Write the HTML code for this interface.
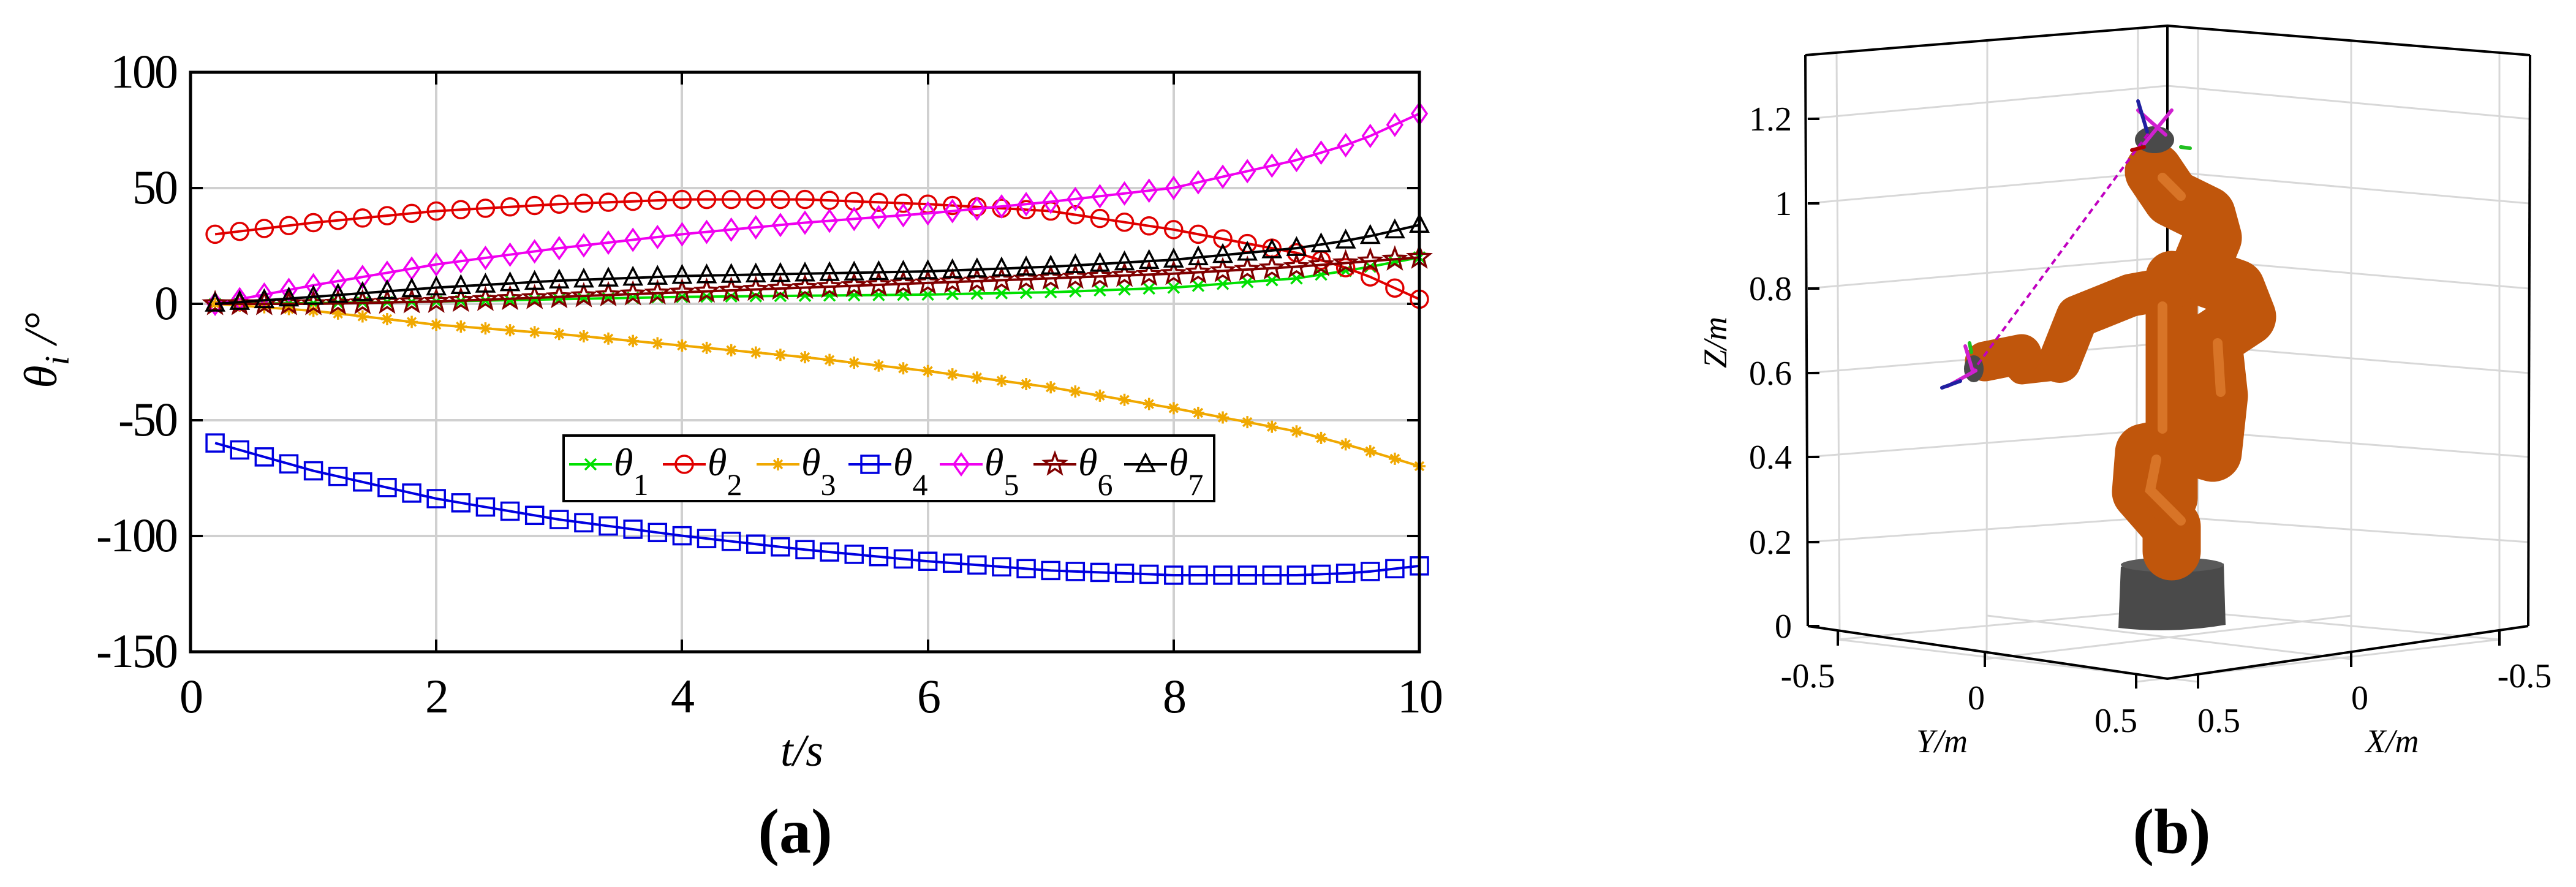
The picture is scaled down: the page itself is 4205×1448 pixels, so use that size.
<!DOCTYPE html>
<html><head><meta charset="utf-8"><style>
html,body{margin:0;padding:0;background:#fff;}
svg{display:block;}
svg text{font-family:"Liberation Serif","Times New Roman","DejaVu Serif",serif;fill:#000;}
</style></head><body>
<svg id="s" width="4205" height="1448" viewBox="0 0 4205 1448" xmlns="http://www.w3.org/2000/svg">
<rect width="4205" height="1448" fill="#fff"/>
<g stroke="#d0d0d0" stroke-width="4">
<line x1="712" y1="118" x2="712" y2="1064"/><line x1="1113" y1="118" x2="1113" y2="1064"/>
<line x1="1515" y1="118" x2="1515" y2="1064"/><line x1="1916" y1="118" x2="1916" y2="1064"/>
<line x1="311" y1="307" x2="2317" y2="307"/><line x1="311" y1="496" x2="2317" y2="496"/>
<line x1="311" y1="686" x2="2317" y2="686"/><line x1="311" y1="875" x2="2317" y2="875"/>
</g>
<g stroke="#000" stroke-width="4">
<line x1="712" y1="1064" x2="712" y2="1044"/><line x1="1113" y1="1064" x2="1113" y2="1044"/><line x1="1515" y1="1064" x2="1515" y2="1044"/><line x1="1916" y1="1064" x2="1916" y2="1044"/>
<line x1="712" y1="118" x2="712" y2="138"/><line x1="1113" y1="118" x2="1113" y2="138"/><line x1="1515" y1="118" x2="1515" y2="138"/><line x1="1916" y1="118" x2="1916" y2="138"/>
<line x1="311" y1="307" x2="331" y2="307"/><line x1="311" y1="496" x2="331" y2="496"/><line x1="311" y1="686" x2="331" y2="686"/><line x1="311" y1="875" x2="331" y2="875"/>
<line x1="2317" y1="307" x2="2297" y2="307"/><line x1="2317" y1="496" x2="2297" y2="496"/><line x1="2317" y1="686" x2="2297" y2="686"/><line x1="2317" y1="875" x2="2297" y2="875"/>
</g>
<g id="series"></g>
<rect x="311" y="118" width="2006" height="946" fill="none" stroke="#000" stroke-width="5"/>
<g font-size="78" text-anchor="end" letter-spacing="-3">
<text x="288" y="143">100</text><text x="288" y="332">50</text><text x="288" y="521">0</text>
<text x="288" y="711">-50</text><text x="288" y="900">-100</text><text x="288" y="1089">-150</text>
</g>
<g font-size="78" text-anchor="middle" letter-spacing="-3">
<text x="311" y="1163">0</text><text x="712" y="1163">2</text><text x="1113" y="1163">4</text>
<text x="1515" y="1163">6</text><text x="1916" y="1163">8</text><text x="2317" y="1163">10</text>
</g>
<text x="1309" y="1250" font-size="74" font-style="italic" text-anchor="middle">t/s</text>
<text transform="translate(92,572) rotate(-90)" font-size="76" font-style="italic" text-anchor="middle">θ<tspan font-size="56" dy="20">i</tspan><tspan dy="-20"> /°</tspan></text>
<text x="1298" y="1392" font-size="104" font-weight="bold" text-anchor="middle">(a)</text>
<rect x="920" y="711" width="1062" height="107" fill="#fff" stroke="#000" stroke-width="4"/>
<g id="legend" font-size="64" font-style="italic"></g>

<g stroke="#d8d8d8" stroke-width="3" fill="none">
<line x1="2998" y1="85" x2="3003" y2="1044"/><line x1="3244" y1="65" x2="3243" y2="1076"/>
<line x1="3490" y1="46" x2="3487" y2="1010"/>
<line x1="3588" y1="46" x2="3588" y2="1010"/><line x1="3838" y1="65" x2="3838" y2="1076"/><line x1="4080" y1="85" x2="4080" y2="1044"/>
<polyline points="2950,885 3538,843 4128,885"/><polyline points="2950,746 3538,700 4128,746"/>
<polyline points="2950,609 3538,560 4128,609"/><polyline points="2950,471 3538,420 4128,471"/>
<polyline points="2950,332 3538,280 4128,332"/><polyline points="2950,194 3538,140 4128,194"/>
<line x1="3000" y1="1044" x2="3588" y2="990"/><line x1="3240" y1="1076" x2="3838" y2="1005"/>
<line x1="3487" y1="1113" x2="4080" y2="1044"/><line x1="4080" y1="1044" x2="3490" y2="990"/>
<line x1="3838" y1="1076" x2="3244" y2="1005"/><line x1="3588" y1="1113" x2="3000" y2="1044"/>
</g>
<g stroke="#000" stroke-width="4" fill="none">
<polyline points="2947,90 3538,42 4130,90"/>
<line x1="3538" y1="42" x2="3538" y2="1000"/>
<line x1="2947" y1="90" x2="2951" y2="1022"/><line x1="4130" y1="90" x2="4127" y2="1022"/>
<polyline points="2951,1022 3538,1108 4127,1022"/>
<line x1="2951" y1="1022" x2="2970" y2="1022"/><line x1="2951" y1="885" x2="2970" y2="885"/><line x1="2951" y1="746" x2="2970" y2="746"/>
<line x1="2951" y1="609" x2="2970" y2="609"/><line x1="2951" y1="471" x2="2970" y2="471"/><line x1="2951" y1="332" x2="2970" y2="332"/><line x1="2951" y1="194" x2="2970" y2="194"/>
<line x1="3000" y1="1030" x2="3000" y2="1054"/><line x1="3240" y1="1065" x2="3240" y2="1089"/><line x1="3487" y1="1100" x2="3487" y2="1124"/>
<line x1="3588" y1="1100" x2="3588" y2="1124"/><line x1="3838" y1="1065" x2="3838" y2="1089"/><line x1="4080" y1="1030" x2="4080" y2="1054"/>
</g>
<g font-size="56" text-anchor="end">
<text x="2925" y="1041">0</text><text x="2925" y="904">0.2</text><text x="2925" y="765">0.4</text><text x="2925" y="628">0.6</text>
<text x="2925" y="490">0.8</text><text x="2925" y="351">1</text><text x="2925" y="213">1.2</text>
</g>
<g font-size="56" text-anchor="middle">
<text x="2951" y="1122">-0.5</text><text x="3226" y="1158">0</text><text x="3454" y="1195">0.5</text>
<text x="3622" y="1195">0.5</text><text x="3852" y="1158">0</text><text x="4121" y="1122">-0.5</text>
</g>
<g font-size="54" font-style="italic" text-anchor="middle">
<text x="3170" y="1228">Y/m</text><text x="3905" y="1228">X/m</text>
<text transform="translate(2818,559) rotate(-90)">Z/m</text>
</g>
<text x="3545" y="1392" font-size="104" font-weight="bold" text-anchor="middle">(b)</text>
<path d="M3462,925 L3630,920 L3633,1020 Q3545,1035 3458,1025 Z" fill="#4a4a4a"/>
<ellipse cx="3546" cy="922" rx="84" ry="12" fill="#5a5a5a"/>
<g fill="none" stroke="#c0560c" stroke-linecap="round" stroke-linejoin="round">
<polyline stroke-width="95" points="3545,900 3545,860 3495,803 3500,739 3564,725 3612,739 3622,646 3612,554 3668,517 3650,471 3605,455 3593,434 3612,388 3602,351 3545,323 3516,280"/>
<polyline stroke-width="85" points="3545,452 3545,813"/>
<polyline stroke-width="70" points="3545,470 3478,482 3391,517 3362,590"/>
<polyline stroke-width="45" points="3362,598 3300,605 3286,590"/>
<polyline stroke-width="65" points="3300,578 3240,590"/>
</g>
<g fill="none" stroke="#e8883a" stroke-width="16" stroke-linecap="round" opacity="0.6">
<polyline points="3560,850 3510,800 3520,750"/><polyline points="3625,640 3620,560"/><polyline points="3530,290 3560,320"/><polyline points="3530,500 3530,700"/>
</g>
<ellipse cx="3517" cy="228" rx="32" ry="22" fill="#4a4a4a"/>
<ellipse cx="3222" cy="602" rx="16" ry="22" fill="#4a4a4a"/>
<line x1="3218" y1="609" x2="3511" y2="212" stroke="#c000c0" stroke-width="4" stroke-dasharray="10,7"/>
<g stroke-width="6" stroke-linecap="round">
<line x1="3490" y1="180" x2="3535" y2="220" stroke="#d020d0"/><line x1="3545" y1="180" x2="3500" y2="235" stroke="#d020d0"/>
<line x1="3490" y1="165" x2="3505" y2="215" stroke="#2020a0"/><line x1="3500" y1="240" x2="3480" y2="245" stroke="#b00000"/>
<line x1="3560" y1="240" x2="3575" y2="242" stroke="#20c020"/>
<line x1="3180" y1="630" x2="3225" y2="605" stroke="#d020d0"/><line x1="3208" y1="565" x2="3220" y2="605" stroke="#d020d0"/>
<line x1="3170" y1="633" x2="3200" y2="622" stroke="#2020a0"/><line x1="3215" y1="560" x2="3218" y2="575" stroke="#20c020"/>
</g>
</svg>
<script>
(function(){
var NS="http://www.w3.org/2000/svg";
var kt=[0.2,1,2,3,4,5,6,7,8,9,9.5,10];
var S=[
 {c:"#00e000",m:"x",v:[0,0.3,1,2,3,3.5,4,5,7,11,15,20]},
 {c:"#e00000",m:"o",v:[30,35,40,43,45,45,43,40,32,22,14,2]},
 {c:"#f0a800",m:"*",v:[0,-3,-9,-13,-18,-23,-29,-36,-45,-55,-62,-70]},
 {c:"#0000e0",m:"s",v:[-60,-72,-84,-93,-100,-106,-111,-115,-117,-117,-116,-113]},
 {c:"#f000f0",m:"d",v:[0,8,17,24,30,35,39,44,50,62,70,82]},
 {c:"#800000",m:"p",v:[0,0,1,3,5,7,9,11,13,16,18,20]},
 {c:"#000000",m:"^",v:[0,3,7,10,12,13,14,16,19,24,28,34]}
];
function X(t){return 311+t*200.6;}
function Y(v){return 496-v*3.786;}
function interp(v,t){for(var i=0;i<kt.length-1;i++){if(t<=kt[i+1]+1e-9){var f=(t-kt[i])/(kt[i+1]-kt[i]);return v[i]+f*(v[i+1]-v[i]);}}return v[v.length-1];}
function star(x,y,r,n){var p=[];for(var i=0;i<2*n;i++){var a=-Math.PI/2+i*Math.PI/n;var rr=i%2?r*0.42:r;p.push((x+rr*Math.cos(a)).toFixed(1)+","+(y+rr*Math.sin(a)).toFixed(1));}return p.join(" ");}
function marker(g,m,x,y,c){
 var e,r=14;
 if(m=="o"){e=document.createElementNS(NS,"circle");e.setAttribute("cx",x);e.setAttribute("cy",y);e.setAttribute("r",r);}
 else if(m=="s"){e=document.createElementNS(NS,"rect");e.setAttribute("x",x-r);e.setAttribute("y",y-r);e.setAttribute("width",2*r);e.setAttribute("height",2*r);}
 else if(m=="d"){e=document.createElementNS(NS,"polygon");e.setAttribute("points",x+","+(y-17)+" "+(x+12)+","+y+" "+x+","+(y+17)+" "+(x-12)+","+y);}
 else if(m=="^"){e=document.createElementNS(NS,"polygon");e.setAttribute("points",x+","+(y-16)+" "+(x+14)+","+(y+11)+" "+(x-14)+","+(y+11));}
 else if(m=="p"){e=document.createElementNS(NS,"polygon");e.setAttribute("points",star(x,y,18,5));}
 else if(m=="x"){e=document.createElementNS(NS,"path");e.setAttribute("d","M"+(x-9)+","+(y-9)+"L"+(x+9)+","+(y+9)+"M"+(x-9)+","+(y+9)+"L"+(x+9)+","+(y-9));}
 else if(m=="*"){e=document.createElementNS(NS,"path");e.setAttribute("d","M"+(x-10)+","+y+"L"+(x+10)+","+y+"M"+x+","+(y-10)+"L"+x+","+(y+10)+"M"+(x-7)+","+(y-7)+"L"+(x+7)+","+(y+7)+"M"+(x-7)+","+(y+7)+"L"+(x+7)+","+(y-7));}
 e.setAttribute("fill","none");e.setAttribute("stroke",c);e.setAttribute("stroke-width","3.5");g.appendChild(e);
}
var g=document.getElementById("series");
S.forEach(function(s){
 var pts=[],xs=[];
 for(var k=1;k<=50;k++){var t=k*0.2;var x=X(t),y=Y(interp(s.v,t));pts.push(x.toFixed(1)+","+y.toFixed(1));xs.push([x,y]);}
 var pl=document.createElementNS(NS,"polyline");pl.setAttribute("points",pts.join(" "));pl.setAttribute("fill","none");pl.setAttribute("stroke",s.c);pl.setAttribute("stroke-width","4");g.appendChild(pl);
 xs.forEach(function(p){marker(g,s.m,p[0],p[1],s.c);});
});
var lg=document.getElementById("legend");
var mx=[964,1117,1270,1420,1569,1722,1870];
S.forEach(function(s,i){
 var cy=758,x=mx[i];
 var l=document.createElementNS(NS,"line");l.setAttribute("x1",x-35);l.setAttribute("x2",x+35);l.setAttribute("y1",cy);l.setAttribute("y2",cy);l.setAttribute("stroke",s.c);l.setAttribute("stroke-width","4");lg.appendChild(l);
 marker(lg,s.m,x,cy,s.c);
 var t=document.createElementNS(NS,"text");t.setAttribute("x",x+38);t.setAttribute("y",cy+18);
 t.innerHTML='θ<tspan font-size="50" font-style="normal" dy="32">'+(i+1)+'</tspan>';lg.appendChild(t);
});
})();
</script>
</body></html>
